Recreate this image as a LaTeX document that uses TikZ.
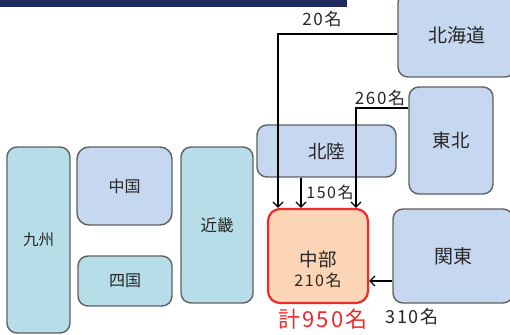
\documentclass[tikz,border=0pt]{standalone}
\usepackage{fontspec}
\setmainfont{Noto Sans CJK JP}
\newfontfamily\numfont[LetterSpace=10]{Noto Sans CJK JP}
\usetikzlibrary{arrows.meta}
\definecolor{boxblue}{HTML}{C6D8EF}
\definecolor{boxcyan}{HTML}{B7DEE8}
\definecolor{boxpeach}{HTML}{FBD5B5}
\definecolor{edgegray}{HTML}{606060}
\definecolor{redline}{HTML}{EE2A2A}
\definecolor{navy}{HTML}{1F2A5E}
\definecolor{txt}{HTML}{262626}
\tikzset{
  region/.style={draw=edgegray, line width=1.4pt, rounded corners=10pt, inner sep=0pt, text=txt},
  bluebox/.style={region, fill=boxblue},
  cyanbox/.style={region, fill=boxcyan},
  flow/.style={draw=black, line width=1.3pt, -{Straight Barb[length=5pt,width=10pt]}},
  amount/.style={text=txt, font=\numfont\fontsize{17}{17}\selectfont, inner sep=0pt},
}
\begin{document}
\begin{tikzpicture}[x=1pt,y=-1pt]
\clip (0,0) rectangle (510,334);
\fill[white] (0,0) rectangle (510,334);
\fill[navy] (0,0) rectangle (347,7);
% regions
\node[cyanbox, minimum width=63pt, minimum height=186pt, font=\fontsize{15.5}{15.5}\selectfont] (kyushu) at (38.5,240) {九州};
\node[bluebox, minimum width=95pt, minimum height=78pt, rounded corners=12pt, font=\fontsize{16}{16}\selectfont] (chugoku) at (124.5,186) {中国};
\node[cyanbox, minimum width=94pt, minimum height=50pt, font=\fontsize{16}{16}\selectfont] (shikoku) at (125,281) {四国};
\node[cyanbox, minimum width=72pt, minimum height=156pt, font=\fontsize{16.5}{16.5}\selectfont] (kinki) at (217,225) {近畿};
\node[bluebox, minimum width=139pt, minimum height=52pt, font=\fontsize{18.5}{18.5}\selectfont] (hokuriku) at (326.5,151) {北陸};
\node[bluebox, minimum width=117pt, minimum height=84pt, font=\fontsize{19}{19}\selectfont] (hokkaido) at (456.5,35) {北海道};
\node[bluebox, minimum width=84pt, minimum height=107pt, font=\fontsize{18.5}{18.5}\selectfont] (tohoku) at (451,140.5) {東北};
\node[bluebox, minimum width=120pt, minimum height=94pt, font=\fontsize{19}{19}\selectfont] (kanto) at (453,256) {関東};
\node[draw=redline, fill=boxpeach, line width=2.2pt, rounded corners=12pt, minimum width=100pt, minimum height=94pt] (chubu) at (318,256) {};
\node[align=center, text=txt, inner sep=0pt] (chubutext) at (318,269) {{\fontsize{18.5}{18.5}\selectfont 中部}\\[4pt]{\numfont\fontsize{16}{16}\selectfont 210名}};
% flows
\coordinate (hk) at (hokkaido.west |- 0,34);
\coordinate (th) at (tohoku.west |- 0,108);
\coordinate (kt) at (kanto.west |- 0,281);
\draw[flow] (hk) -| (chubu.north -| 278,0);
\draw[flow] (th) -| (chubu.north -| 356,0);
\draw[flow] (hokuriku.south -| 301,0) -- (chubu.north -| 301,0);
\draw[flow] (kt) -- (chubu.east |- kt);
% amounts
\node[amount] (l20) at (322,19) {20名};
\node[amount] (l260) at (380,98) {260名};
\node[amount, font=\numfont\fontsize{16}{16}\selectfont] (l150) at (330,192) {150名};
\node[amount, font=\numfont\fontsize{18}{18}\selectfont] (l310) at (412,317) {310名};
\node[text=redline, font=\numfont\fontsize{22}{22}\selectfont, inner sep=0pt] (total) at (323,319) {計950名};
\end{tikzpicture}
\end{document}
